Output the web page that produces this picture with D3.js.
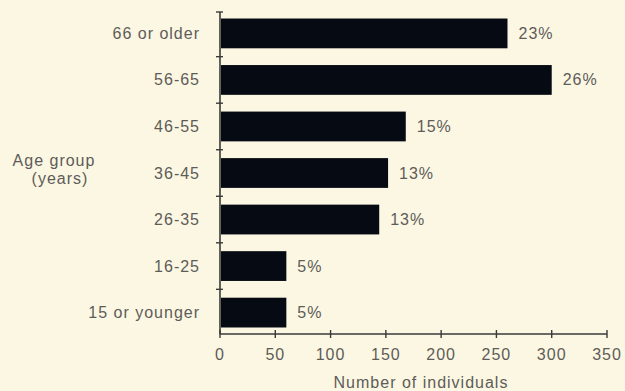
<!DOCTYPE html>
<html><head><meta charset="utf-8">
<script src="https://cdn.jsdelivr.net/npm/d3@7/dist/d3.min.js"></script>
<style>
html,body{margin:0;padding:0;background:#fbf7e3;}
svg{display:block;}
text{font-family:"Liberation Sans",Arial,Helvetica,sans-serif;fill:#5e5c58;letter-spacing:1px;}
</style></head><body>
<svg id="c" width="625" height="391"></svg>
<script>
const categories = ["66 or older","56-65","46-55","36-45","26-35","16-25","15 or younger"];
const values = [260, 300, 168, 152, 144, 60, 60];
const percents = ["23%","26%","15%","13%","13%","5%","5%"];
const xTicks = [0,50,100,150,200,250,300,350];

const svg = d3.select("#c");
const x = d3.scaleLinear().domain([0,350]).range([220,607]);
const y = d3.scaleBand().domain(categories).range([12,334]).paddingInner(0.36).paddingOuter(0.14);
const fs = 16;

// bars
svg.selectAll("rect.bar").data(values).join("rect")
  .attr("class","bar")
  .attr("x", x(0)+1)
  .attr("y",(d,i)=>y(categories[i]))
  .attr("width",d=>x(d)-x(0)-1)
  .attr("height",y.bandwidth())
  .attr("fill","#060a12");

// y axis line and boundary ticks
const axisColor = "#3a3a38";
svg.append("line").attr("x1",x(0)).attr("x2",x(0)).attr("y1",12).attr("y2",334)
  .attr("stroke",axisColor).attr("stroke-width",1.6);
const bounds = categories.map((c,i)=> i===0 ? 12 : (y(categories[i-1])+y.bandwidth()+y(c))/2);
svg.selectAll("line.yt").data(bounds).join("line").attr("class","yt")
  .attr("x1",x(0)-4).attr("x2",x(0)+3).attr("y1",d=>d).attr("y2",d=>d)
  .attr("stroke",axisColor).attr("stroke-width",1.4);

// x axis
svg.append("line").attr("x1",x(0)).attr("x2",x(350)).attr("y1",334).attr("y2",334)
  .attr("stroke",axisColor).attr("stroke-width",1.6);
svg.selectAll("line.xt").data(xTicks).join("line").attr("class","xt")
  .attr("x1",d=>x(d)).attr("x2",d=>x(d)).attr("y1",330).attr("y2",338)
  .attr("stroke",axisColor).attr("stroke-width",1.4);
svg.selectAll("text.xl").data(xTicks).join("text").attr("class","xl")
  .attr("x",d=>x(d)).attr("y",360).attr("text-anchor","middle")
  .attr("font-size",fs).text(d=>d);
svg.append("text").attr("x",421).attr("y",388).attr("text-anchor","middle")
  .attr("font-size",fs).text("Number of individuals");

// category labels
svg.selectAll("text.cl").data(categories).join("text").attr("class","cl")
  .attr("x",200).attr("y",d=>y(d)+y.bandwidth()/2+5.5).attr("text-anchor","end")
  .attr("font-size",fs).text(d=>d);

// percent labels
svg.selectAll("text.pl").data(values).join("text").attr("class","pl")
  .attr("x",d=>x(d)+11).attr("y",(d,i)=>y(categories[i])+y.bandwidth()/2+5.5)
  .attr("font-size",fs).text((d,i)=>percents[i]);

// y axis title
svg.append("text").attr("x",54).attr("y",166).attr("text-anchor","middle")
  .attr("font-size",fs).text("Age group");
svg.append("text").attr("x",60).attr("y",184).attr("text-anchor","middle")
  .attr("font-size",fs).text("(years)");
</script>
</body></html>
